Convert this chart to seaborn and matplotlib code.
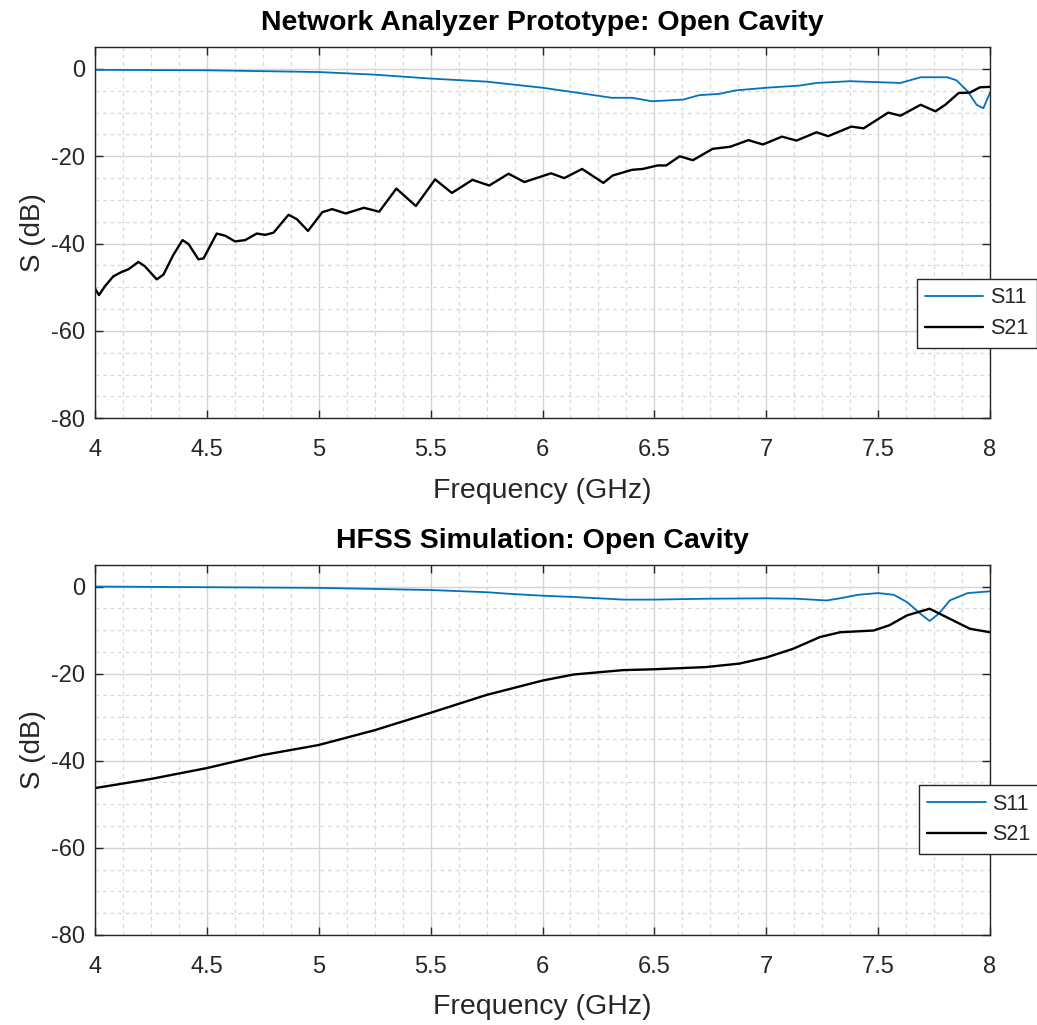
import matplotlib
matplotlib.use("Agg")
import matplotlib.pyplot as plt
from matplotlib.ticker import MultipleLocator
import pandas as pd
import seaborn as sns

# --- Daten: Network Analyzer (Messung) ---------------------------------
VNA_S11_F = [4.0, 4.5, 5.0, 5.25, 5.5, 5.75, 6.0, 6.15, 6.31, 6.40, 6.49,
             6.63, 6.70, 6.79, 6.865, 7.0, 7.15, 7.225, 7.375, 7.60, 7.69,
             7.81, 7.85, 7.90, 7.94, 7.97, 8.0]
VNA_S11_DB = [-0.2, -0.3, -0.7, -1.3, -2.2, -2.9, -4.3, -5.4, -6.6, -6.6, -7.4,
              -7.0, -6.0, -5.7, -4.9, -4.3, -3.8, -3.2, -2.8, -3.2, -1.9,
              -1.9, -2.6, -5.1, -8.2, -9.0, -5.4]

VNA_S21_F = [4.000, 4.018, 4.044, 4.082, 4.119, 4.149, 4.194, 4.223, 4.276,
             4.306, 4.350, 4.391, 4.418, 4.462, 4.485, 4.544, 4.582, 4.626,
             4.671, 4.723, 4.761, 4.798, 4.865, 4.902, 4.952, 5.016, 5.060,
             5.120, 5.202, 5.270, 5.347, 5.434, 5.520, 5.595, 5.687, 5.762,
             5.848, 5.919, 6.038, 6.097, 6.177, 6.272, 6.314, 6.400, 6.448,
             6.515, 6.553, 6.613, 6.672, 6.760, 6.840, 6.920, 6.985, 7.070,
             7.135, 7.225, 7.276, 7.380, 7.435, 7.545, 7.600, 7.690, 7.756,
             7.800, 7.860, 7.910, 7.955, 8.000]
VNA_S21_DB = [-50.3, -51.8, -49.8, -47.5, -46.5, -45.9, -44.2, -45.2, -48.2,
              -47.1, -42.6, -39.2, -40.1, -43.6, -43.4, -37.7, -38.2, -39.5,
              -39.2, -37.7, -38.0, -37.5, -33.4, -34.4, -37.1, -32.8, -32.1,
              -33.1, -31.8, -32.7, -27.4, -31.4, -25.3, -28.4, -25.4, -26.7,
              -24.0, -25.9, -23.9, -25.0, -22.9, -26.1, -24.4, -23.1, -22.9,
              -22.1, -22.1, -20.0, -20.9, -18.3, -17.8, -16.3, -17.3, -15.5,
              -16.4, -14.5, -15.4, -13.2, -13.6, -10.0, -10.7, -8.2, -9.7,
              -8.2, -5.5, -5.4, -4.2, -4.1]

# --- Daten: HFSS Simulation --------------------------------------------
HFSS_S11_F = [4.0, 5.0, 5.5, 5.75, 5.86, 6.0, 6.14, 6.36, 6.5, 6.73, 7.0,
              7.135, 7.27, 7.33, 7.41, 7.5, 7.57, 7.63, 7.69, 7.73, 7.77,
              7.82, 7.90, 8.0]
HFSS_S11_DB = [0.0, -0.3, -0.8, -1.3, -1.7, -2.1, -2.4, -3.0, -3.0, -2.8, -2.7,
               -2.8, -3.2, -2.7, -1.9, -1.5, -1.9, -3.6, -6.3, -7.9, -6.3,
               -3.2, -1.5, -1.1]

HFSS_S21_F = [4.0, 4.25, 4.5, 4.75, 5.0, 5.25, 5.5, 5.75, 6.0, 6.14, 6.36,
              6.5, 6.73, 6.88, 7.0, 7.12, 7.24, 7.33, 7.48, 7.55, 7.63, 7.73,
              7.82, 7.91, 8.0]
HFSS_S21_DB = [-46.3, -44.2, -41.7, -38.7, -36.4, -33.0, -29.0, -24.9, -21.6,
               -20.2, -19.2, -19.0, -18.5, -17.7, -16.3, -14.3, -11.6, -10.5,
               -10.1, -8.9, -6.6, -5.1, -7.4, -9.7, -10.5]

TITLES = ["Network Analyzer Prototype: Open Cavity", "HFSS Simulation: Open Cavity"]
XTICKS = [4, 4.5, 5, 5.5, 6, 6.5, 7, 7.5, 8]
XTICKLABELS = ["4", "4.5", "5", "5.5", "6", "6.5", "7", "7.5", "8"]
YTICKS = [-80, -60, -40, -20, 0]

BLUE = "#0072BD"
TEXT = "#262626"


def to_frame(f11, s11, f21, s21) -> pd.DataFrame:
    a = pd.DataFrame({"f": f11, "S": s11, "Param": "S11"})
    b = pd.DataFrame({"f": f21, "S": s21, "Param": "S21"})
    return pd.concat([a, b], ignore_index=True)


sns.set_theme(style="whitegrid")
plt.rcParams["font.family"] = ["Liberation Sans", "DejaVu Sans"]
plt.rcParams["axes.unicode_minus"] = False

fig = plt.figure(figsize=(10.37, 10.25), dpi=100)
ax_top = fig.add_axes([0.0916, 0.592, 0.8631, 0.362])
ax_bot = fig.add_axes([0.0916, 0.088, 0.8631, 0.361])

data = [
    to_frame(VNA_S11_F, VNA_S11_DB, VNA_S21_F, VNA_S21_DB),
    to_frame(HFSS_S11_F, HFSS_S11_DB, HFSS_S21_F, HFSS_S21_DB),
]
legend_anchor = [(0.884, 0.728), (0.886, 0.234)]

for ax, df, title, anchor in zip([ax_top, ax_bot], data, TITLES, legend_anchor):
    ax.set_facecolor("white")
    sns.lineplot(data=df[df["Param"] == "S11"], x="f", y="S", ax=ax,
                 color=BLUE, linewidth=1.3, label="S11", legend=False,
                 solid_joinstyle="round")
    sns.lineplot(data=df[df["Param"] == "S21"], x="f", y="S", ax=ax,
                 color="black", linewidth=1.7, label="S21", legend=False,
                 solid_joinstyle="round")

    ax.set_xlim(4, 8)
    ax.set_ylim(-80, 5)
    ax.set_xticks(XTICKS)
    ax.set_xticklabels(XTICKLABELS)
    ax.set_yticks(YTICKS)
    ax.xaxis.set_minor_locator(MultipleLocator(0.125))
    ax.yaxis.set_minor_locator(MultipleLocator(5))

    ax.grid(True, which="major", color="#d4d4d4", linewidth=1.0, linestyle="-")
    ax.grid(True, which="minor", color="#d8d8d8", linewidth=0.9,
            linestyle=(0, (3, 3)))
    ax.set_axisbelow(True)

    ax.tick_params(which="major", direction="in", length=6, width=1.0,
                   color=TEXT, labelsize=17, labelcolor=TEXT,
                   top=True, right=True, bottom=True, left=True)
    ax.tick_params(axis="x", which="major", pad=15)
    ax.tick_params(axis="y", which="major", pad=7)
    ax.tick_params(which="minor", length=0)
    for sp in ax.spines.values():
        sp.set_color(TEXT)
        sp.set_linewidth(1.0)

    ax.set_xlabel("Frequency (GHz)", fontsize=20.5, color=TEXT, labelpad=12)
    ax.set_ylabel("S (dB)", fontsize=20, color=TEXT, labelpad=4)
    ax.set_title(title, fontsize=20.5, fontweight="bold", color="black", pad=12)

    handles, labels = ax.get_legend_handles_labels()
    leg = fig.legend(handles, labels, loc="upper left", bbox_to_anchor=anchor,
                     bbox_transform=fig.transFigure, fontsize=15.5,
                     frameon=True, fancybox=False, edgecolor=TEXT,
                     framealpha=1.0, handlelength=2.7, handletextpad=0.3,
                     borderpad=0.4, labelspacing=0.45, borderaxespad=0)
    leg.get_frame().set_linewidth(1.0)
    for t in leg.get_texts():
        t.set_color(TEXT)

fig.savefig("out.png", dpi=100, facecolor="white")
plt.close(fig)
